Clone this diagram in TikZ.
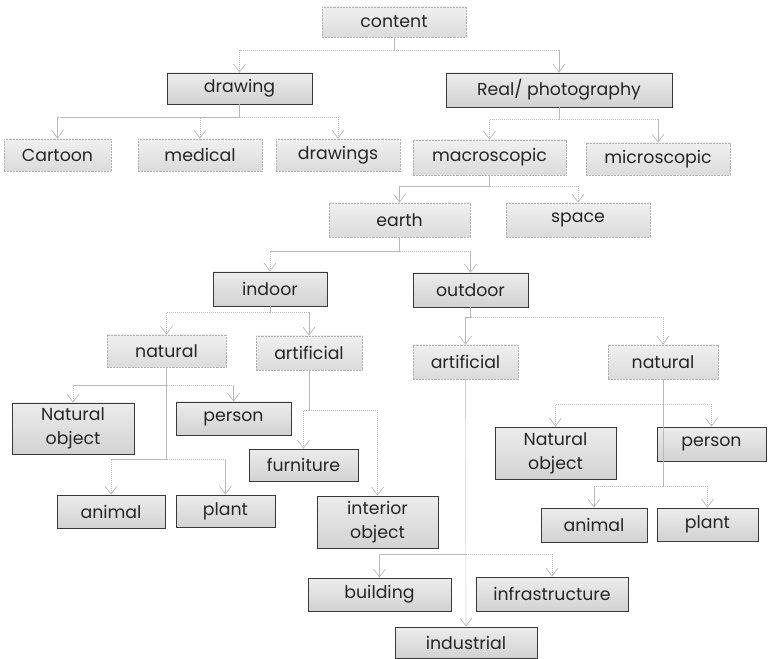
\documentclass[tikz,border=0pt]{standalone}
\usepackage{fontspec}
\setmainfont{Poppins}
\usetikzlibrary{arrows.meta}
\newcommand\mybox[7]{\node[#1, minimum width={(#5-#3)*0.75pt}, minimum height={(#6-#4)*0.75pt}] (#2) at ({(#3+#5)/2},{(#4+#6)/2}) {#7};}
\begin{document}
\begin{tikzpicture}[x=0.75pt,y=-0.75pt,
  base/.style={inner sep=0pt, align=center, font=\fontsize{13}{18}\selectfont, text=black!85},
  lbox/.style={base, draw=gray!60, dash pattern=on 0.7pt off 0.4pt, line width=0.6pt, top color=gray!12, bottom color=gray!28},
  dbox/.style={base, draw=gray!45!black, line width=0.6pt, top color=gray!15, bottom color=gray!35},
  line/.style={draw=gray!55, line width=0.5pt, dash pattern=on 1pt off 0.5pt},
  conn/.style={line, -{Straight Barb[length=6pt,width=9pt,line width=0.5pt]}}]
\useasboundingbox (0,0) rectangle (768,659);
% nodes
\mybox{lbox}{content}{322}{7}{466}{37}{content}
\mybox{dbox}{drawing}{167}{73}{312}{104}{drawing}
\mybox{dbox}{real}{446}{73}{672}{107}{Real/ photography}
\mybox{lbox}{cartoon}{4}{139}{111}{171}{Cartoon}
\mybox{lbox}{medical}{138}{139}{262}{171}{medical}
\mybox{lbox}{drawings}{276}{139}{400}{171}{drawings}
\mybox{lbox}{macro}{413}{140}{566}{175}{macroscopic}
\mybox{lbox}{micro}{586}{143}{730}{175}{microscopic}
\mybox{lbox}{earth}{329}{203}{470}{237}{earth}
\mybox{lbox}{space}{506}{203}{650}{237}{space}
\mybox{dbox}{indoor}{213}{272}{327}{306}{indoor}
\mybox{dbox}{outdoor}{413}{273}{528}{307}{outdoor}
\mybox{lbox}{natI}{107}{335}{226}{367}{natural}
\mybox{lbox}{artI}{256}{336}{362}{370}{artificial}
\mybox{lbox}{artO}{413}{345}{518}{379}{artificial}
\mybox{lbox}{natO}{608}{345}{718}{379}{natural}
\mybox{dbox}{nobjL}{12}{403}{134}{454}{Natural\\object}
\mybox{dbox}{personL}{176}{402}{291}{435}{person}
\mybox{dbox}{furniture}{249}{449}{358}{481}{furniture}
\mybox{dbox}{animalL}{57}{495}{165}{528}{animal}
\mybox{dbox}{plantL}{176}{495}{275}{527}{plant}
\mybox{dbox}{interior}{317}{496}{438}{548}{interior\\object}
\mybox{dbox}{building}{308}{578}{451}{611}{building}
\mybox{dbox}{infra}{476}{577}{628}{611}{infrastructure}
\mybox{dbox}{industrial}{395}{627}{537}{658}{industrial}
\mybox{dbox}{nobjR}{495}{427}{616}{479}{Natural\\object}
\mybox{dbox}{personR}{657}{427}{766}{461}{person}
\mybox{dbox}{animalR}{541}{508}{647}{542}{animal}
\mybox{dbox}{plantR}{657}{508}{758}{541}{plant}
% junctions
\path (content.south) ++(0,13) coordinate (j0);
\path (drawing.south) ++(0,13) coordinate (j1);
\path (real.south) ++(0,12) coordinate (j2);
\path (macro.south) ++(0,11) coordinate (j3);
\path (earth.south) ++(0,14) coordinate (j4);
\path (indoor.south) ++(0,6) coordinate (j5);
\path (outdoor.south) ++(0,10) coordinate (j6);
\path (natI.south) ++(0,18) coordinate (j7a);
\path (natI.south) ++(0,92) coordinate (j7b);
\path (artI.south) ++(0,40) coordinate (j8);
\path (artO.south) ++(0,175) coordinate (j9);
\path (natO.south) ++(0,25) coordinate (j10a);
\path (natO.south) ++(0,107) coordinate (j10b);
% connectors
\draw[line] (content.south) -- (j0);
\draw[conn] (j0) -| (drawing.north);
\draw[conn] (j0) -| (real.north);
\draw[line] (drawing.south) -- (j1);
\draw[conn] (j1) -| (cartoon.north);
\draw[conn] (j1) -| (medical.north);
\draw[conn] (j1) -| (drawings.north);
\draw[line] (real.south) -- (j2);
\draw[conn] (j2) -| (macro.north);
\draw[conn] (j2) -| (micro.north);
\draw[line] (macro.south) -- (j3);
\draw[conn] (j3) -| (earth.north);
\draw[conn] (j3) -| (space.north);
\draw[line] (earth.south) -- (j4);
\draw[conn] (j4) -| (indoor.north);
\draw[conn] (j4) -| (outdoor.north);
\draw[line] (indoor.south) -- (j5);
\draw[conn] (j5) -| (natI.north);
\draw[conn] (j5) -| (artI.north);
\draw[line] (outdoor.south) -- (j6);
\draw[conn] (j6) -| (artO.north);
\draw[conn] (j6) -| (natO.north);
\draw[line] (natI.south) -- (j7b);
\draw[conn] (j7a) -| (nobjL.north);
\draw[conn] (j7a) -| (personL.north);
\draw[conn] (j7b) -| (animalL.north);
\draw[conn] (j7b) -| (plantL.north);
\draw[line] (artI.south) -- (j8);
\draw[conn] (j8) -| (furniture.north);
\draw[conn] (j8) -| (interior.north);
\draw[conn] (artO.south) -- (industrial.north);
\draw[conn] (j9) -| (building.north);
\draw[conn] (j9) -| (infra.north);
\draw[line] (natO.south) -- (j10b);
\draw[conn] (j10a) -| (nobjR.north);
\draw[conn] (j10a) -| (personR.north);
\draw[conn] (j10b) -| (animalR.north);
\draw[conn] (j10b) -| (plantR.north);
\end{tikzpicture}
\end{document}
